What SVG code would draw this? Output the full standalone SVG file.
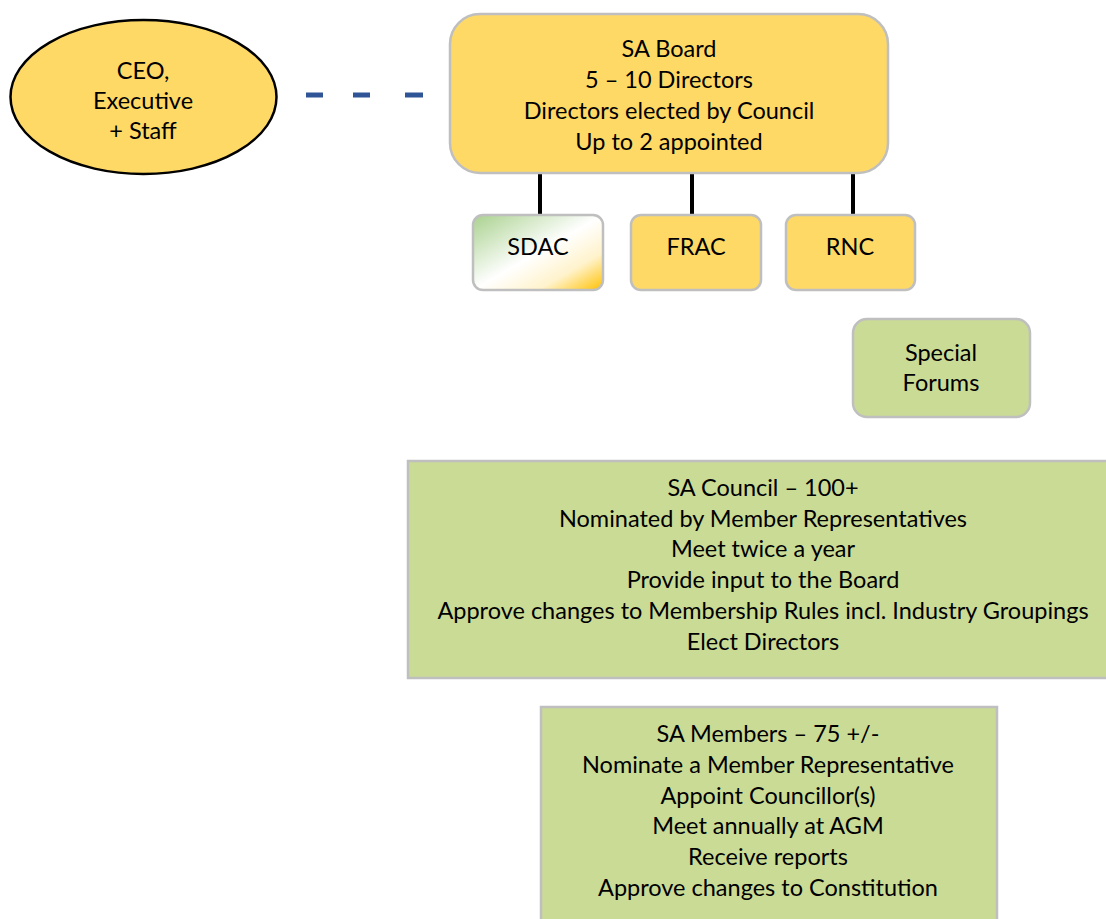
<svg xmlns="http://www.w3.org/2000/svg" width="1106" height="919" viewBox="0 0 1106 919">
<defs>
<linearGradient id="sdacGrad" x1="0" y1="0" x2="1" y2="1">
<stop offset="0" stop-color="#A9D18E"/>
<stop offset="0.5" stop-color="#FFFFFF"/>
<stop offset="0.75" stop-color="#FFF3CC"/>
<stop offset="1" stop-color="#FFC000"/>
</linearGradient>
<style>
text{font-family:"Lato","Liberation Sans",sans-serif;font-size:23.5px;fill:#000;text-anchor:middle}
.yellow{fill:#FFD966;stroke:#BFBFBF;stroke-width:2.5}
.green{fill:#CADB96;stroke:#BFBFBF;stroke-width:2.5}
.conn{stroke:#000;stroke-width:4}
.dash{stroke:#2F5597;stroke-width:5}
</style>
</defs>
<rect width="1106" height="919" fill="#FFFFFF"/>
<g id="connectors">
<line class="dash" x1="306" y1="95" x2="323" y2="95"/>
<line class="dash" x1="353" y1="95" x2="370" y2="95"/>
<line class="dash" x1="405" y1="95" x2="423" y2="95"/>
<line class="conn" x1="540" y1="173" x2="540" y2="215"/>
<line class="conn" x1="692" y1="173" x2="692" y2="215"/>
<line class="conn" x1="853" y1="173" x2="853" y2="215"/>
</g>
<g id="ceo">
<ellipse cx="143.5" cy="97" rx="133" ry="77" fill="#FFD966" stroke="#000" stroke-width="2.5"/>
<text x="143" y="79">CEO,</text>
<text x="143" y="109">Executive</text>
<text x="143" y="139">+ Staff</text>
</g>
<g id="board">
<rect class="yellow" x="450" y="14" width="438" height="159" rx="30"/>
<text x="669" y="57">SA Board</text>
<text x="669" y="88">5 – 10 Directors</text>
<text x="669" y="119">Directors elected by Council</text>
<text x="669" y="150">Up to 2 appointed</text>
</g>
<g id="sdac">
<rect x="473" y="215" width="130" height="75" rx="10" fill="url(#sdacGrad)" stroke="#BFBFBF" stroke-width="2.5"/>
<text x="538" y="255">SDAC</text>
</g>
<g id="frac">
<rect class="yellow" x="631" y="215" width="130" height="75" rx="10"/>
<text x="696" y="255">FRAC</text>
</g>
<g id="rnc">
<rect class="yellow" x="786" y="215" width="129" height="75" rx="10"/>
<text x="850" y="255">RNC</text>
</g>
<g id="forums">
<rect class="green" x="853" y="319" width="177" height="98" rx="14"/>
<text x="941" y="361">Special</text>
<text x="941" y="391">Forums</text>
</g>
<g id="council">
<rect class="green" x="408" y="461" width="700" height="217"/>
<text x="763" y="496">SA Council – 100+</text>
<text x="763" y="527">Nominated by Member Representatives</text>
<text x="763" y="557">Meet twice a year</text>
<text x="763" y="588">Provide input to the Board</text>
<text x="763" y="619">Approve changes to Membership Rules incl. Industry Groupings</text>
<text x="763" y="650">Elect Directors</text>
</g>
<g id="members">
<rect class="green" x="541" y="707" width="456" height="215"/>
<text x="768" y="742">SA Members – 75 +/-</text>
<text x="768" y="773">Nominate a Member Representative</text>
<text x="768" y="804">Appoint Councillor(s)</text>
<text x="768" y="834">Meet annually at AGM</text>
<text x="768" y="865">Receive reports</text>
<text x="768" y="896">Approve changes to Constitution</text>
</g>
</svg>
